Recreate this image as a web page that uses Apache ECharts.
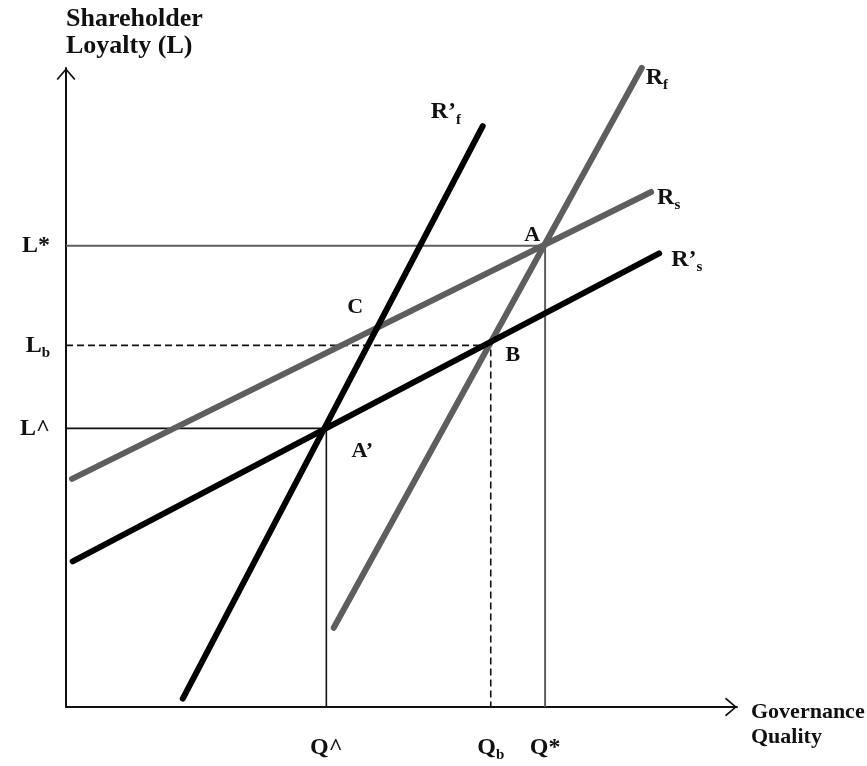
<!DOCTYPE html>
<html><head><meta charset="utf-8">
<script src="https://cdn.jsdelivr.net/npm/echarts@6/dist/echarts.min.js"></script>
<style>html,body{margin:0;padding:0;background:#fff}#c{width:867px;height:766px}</style>
</head><body><div id="c"></div>
<script>
// Tick positions on the axes (arbitrary units 0..10)
const xTickNames = ['Q^', 'Qb', 'Q*'];
const xTickValues = [3.88, 6.33, 7.14];
const yTickNames = ['L^', 'Lb', 'L*'];
const yTickValues = [4.36, 5.66, 7.22];

// Reaction lines (start and end points)
const lineRs = [[0.09, 3.57], [8.72, 8.06]];
const lineRsPrime = [[0.10, 2.28], [8.84, 7.10]];
const lineRf = [[3.99, 1.24], [8.58, 10.0]];
const lineRfPrime = [[1.74, 0.13], [6.21, 9.09]];

// Point labels
const pointNames = ['A', 'B', 'A’', 'C'];
const pointX = [7.14, 6.33, 3.88, 4.58];
const pointY = [7.22, 5.66, 4.36, 5.90];

const FONT = '"Liberation Serif", "Times New Roman", serif';
const GRAY = '#5e5e5e';
const TXT = '#111';

const rich = {
  m: {fontSize: 24, fontWeight: 'bold', fontFamily: FONT, color: TXT, lineHeight: 30},
  s: {fontSize: 15, fontWeight: 'bold', fontFamily: FONT, color: TXT, lineHeight: 12, verticalAlign: 'bottom'}
};
const richPt = {
  m: {fontSize: 22, fontWeight: 'bold', fontFamily: FONT, color: TXT, lineHeight: 28}
};
function fmtName(n) {
  if (n === 'Qb') return '{m|Q}{s|b}';
  if (n === 'Lb') return '{m|L}{s|b}';
  return '{m|' + n + '}';
}
function nearestName(v, vals, names) {
  let bi = 0;
  vals.forEach((t, i) => { if (Math.abs(t - v) < Math.abs(vals[bi] - v)) bi = i; });
  return names[bi];
}

const arrowPath = 'path://M9.5,0 L19,11 L17.6,12 L9.5,2.4 L1.4,12 L0,11 Z';

const Qh = xTickValues[0], Qb = xTickValues[1], Qs = xTickValues[2];
const Lh = yTickValues[0], Lb = yTickValues[1], Ls = yTickValues[2];

function reactionLine(name, data, color, labelText, offset) {
  return {
    type: 'line', name: name, data: data, symbol: 'none', clip: false, silent: true,
    lineStyle: {color: color, width: 6, cap: 'round'},
    endLabel: {show: true, formatter: () => labelText, rich: rich, offset: offset, distance: 4}
  };
}

const option = {
  animation: false,
  backgroundColor: '#fff',
  title: {
    text: 'Governance\nQuality', left: 751, top: 700,
    textStyle: {fontSize: 22, fontWeight: 'bold', fontFamily: FONT, color: TXT, lineHeight: 25},
    padding: 0
  },
  grid: {left: 66, right: 130, top: 68, bottom: 59},
  xAxis: {
    type: 'value', min: 0, max: 10,
    axisLine: {show: true, onZero: false, lineStyle: {color: '#111', width: 2},
      symbol: ['none', arrowPath], symbolSize: [19, 12], symbolOffset: [0, -6]},
    axisTick: {show: false},
    splitLine: {show: false},
    axisLabel: {show: true, customValues: xTickValues, margin: 26, rich: rich,
      formatter: v => fmtName(nearestName(v, xTickValues, xTickNames))}
  },
  yAxis: {
    type: 'value', min: 0, max: 10,
    name: 'Shareholder\nLoyalty (L)', nameLocation: 'end', nameGap: 8,
    nameTextStyle: {fontSize: 26, fontWeight: 'bold', fontFamily: FONT, color: TXT, lineHeight: 27,
      align: 'left', verticalAlign: 'bottom'},
    axisLine: {show: true, onZero: false, lineStyle: {color: '#111', width: 2},
      symbol: ['none', arrowPath], symbolSize: [19, 12], symbolOffset: [0, -6]},
    axisTick: {show: false},
    splitLine: {show: false},
    axisLabel: {show: true, customValues: yTickValues, margin: 16, rich: rich,
      formatter: v => fmtName(nearestName(v, yTickValues, yTickNames))}
  },
  series: [
    {type: 'line', data: [[0, Ls], [Qs, Ls], [Qs, 0]], symbol: 'none', silent: true,
      lineStyle: {color: GRAY, width: 2}},
    {type: 'line', data: [[0, Lb], [Qb, Lb], [Qb, 0]], symbol: 'none', silent: true,
      lineStyle: {color: '#111', width: 1.6, type: [7, 4]}},
    {type: 'line', data: [[0, Lh], [Qh, Lh], [Qh, 0]], symbol: 'none', silent: true,
      lineStyle: {color: '#111', width: 1.6}},
    reactionLine('Rs', lineRs, GRAY, '{m|R}{s|s}', [2, 6]),
    reactionLine('Rf', lineRf, GRAY, '{m|R}{s|f}', [0, 10]),
    reactionLine("R's", lineRsPrime, '#000', '{m|R’}{s|s}', [8, 6]),
    reactionLine("R'f", lineRfPrime, '#000', '{m|R’}{s|f}', [-56, -14]),
    {type: 'scatter', symbolSize: 0, silent: true,
      itemStyle: {opacity: 1, color: '#000'},
      data: pointNames.map((n, i) => ({name: n, value: [pointX[i], pointY[i]]})),
      label: {show: true, position: 'inside', color: TXT, opacity: 1,
        formatter: p => '{m|' + p.name + '}', rich: richPt},
      labelLayout: p => {
        const offs = {'A': [-13, -10], 'B': [22, 10], 'A’': [36, 23], 'C': [-18, -23]};
        const o = offs[pointNames[p.dataIndex]];
        return {dx: o[0], dy: o[1]};
      }
    }
  ]
};
const chart = echarts.init(document.getElementById('c'), null, {renderer: 'canvas'});
chart.setOption(option);
</script>
</body></html>
